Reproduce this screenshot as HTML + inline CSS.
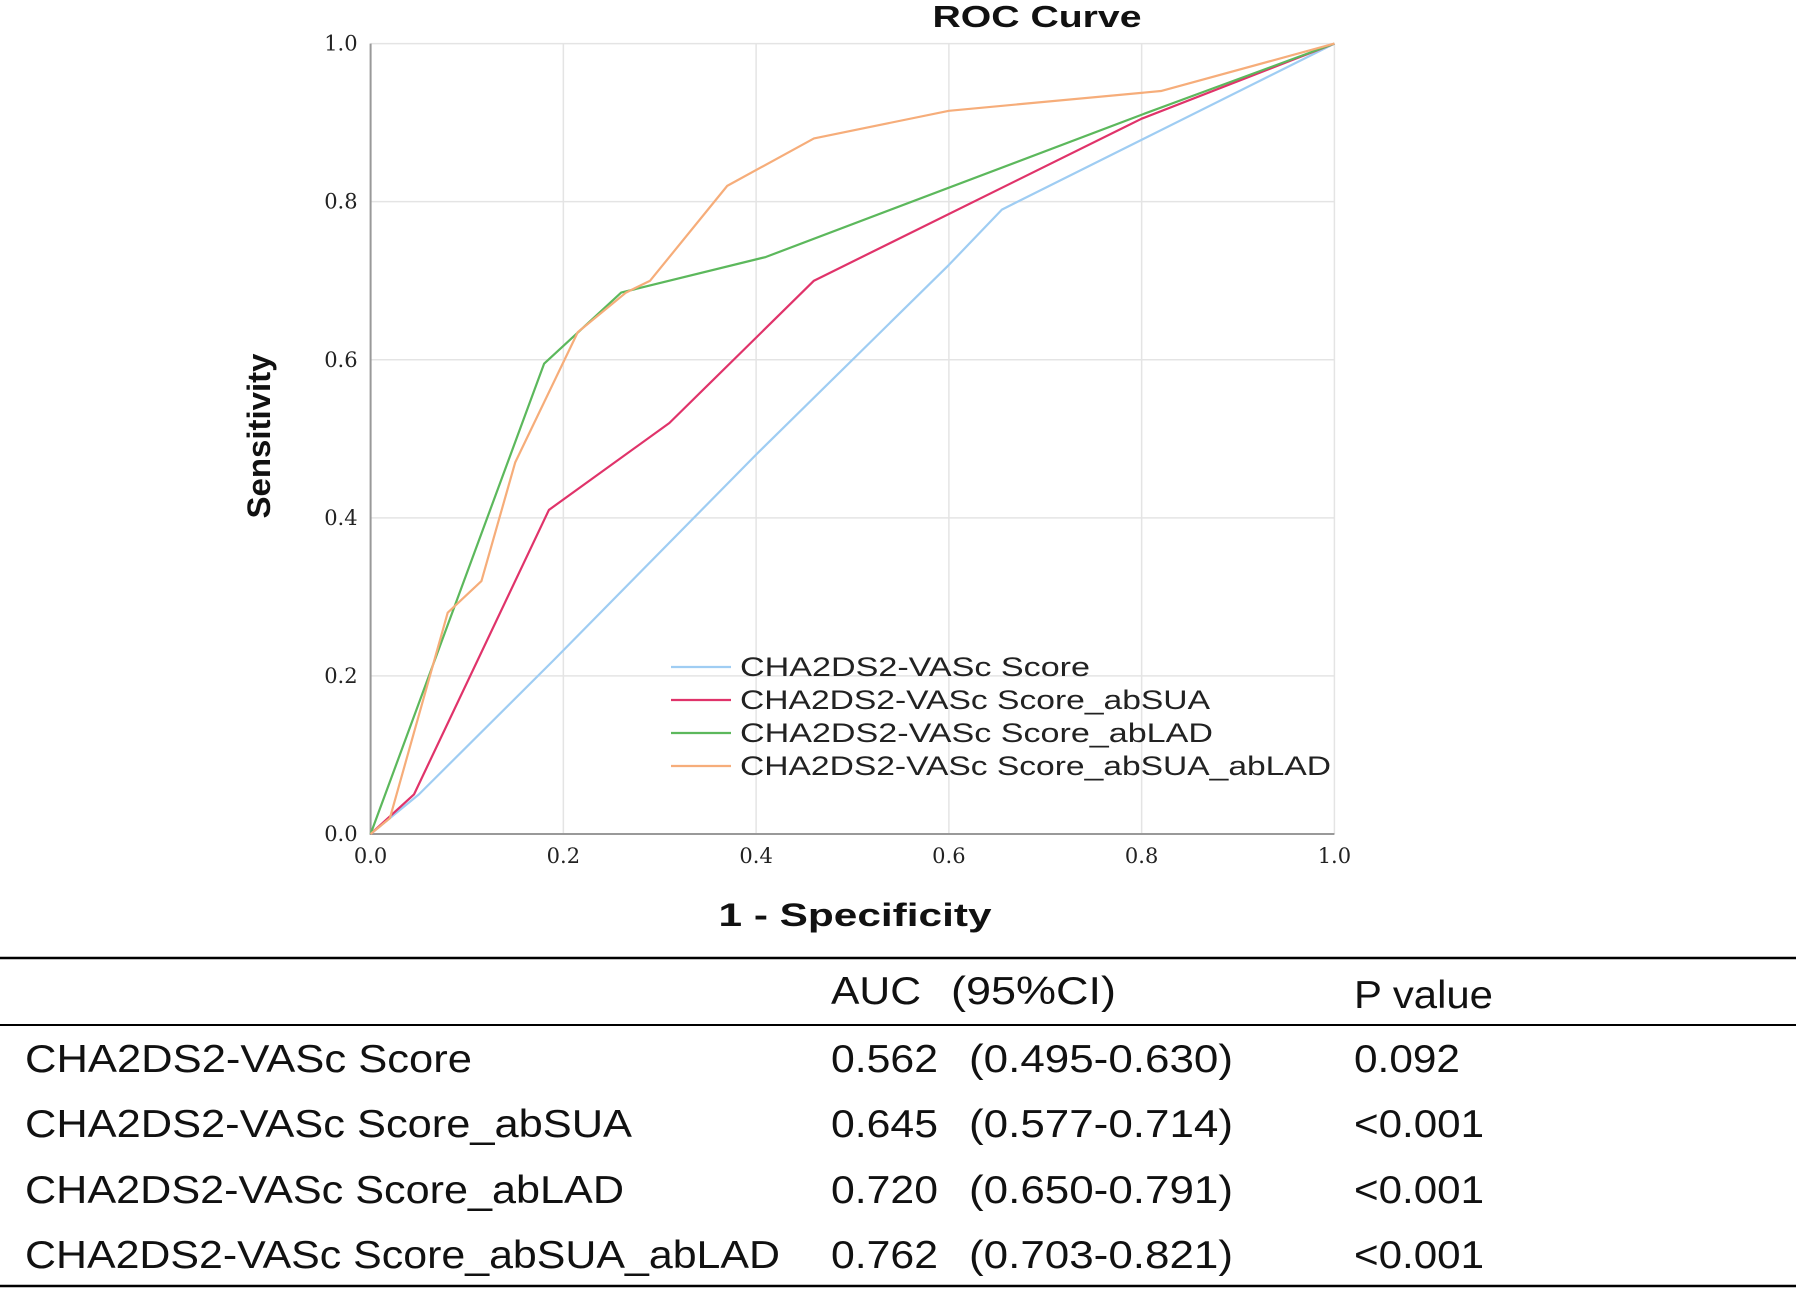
<!DOCTYPE html>
<html><head><meta charset="utf-8"><style>html,body{margin:0;padding:0;background:#fff}svg{display:block}</style></head>
<body>
<svg id="chart" width="1799" height="1290" xmlns="http://www.w3.org/2000/svg" font-family="Liberation Sans, sans-serif">
<g id="grid"></g>
<g id="axes"></g>
<g id="series"></g>
<text x="1037" y="27" text-anchor="middle" font-size="31" font-weight="bold" fill="#111" textLength="209" lengthAdjust="spacingAndGlyphs">ROC Curve</text>
<text transform="translate(270,436) rotate(-90)" text-anchor="middle" font-size="32" font-weight="bold" fill="#111" textLength="165" lengthAdjust="spacingAndGlyphs">Sensitivity</text>
<text x="855" y="926" text-anchor="middle" font-size="32" font-weight="bold" fill="#111" textLength="273" lengthAdjust="spacingAndGlyphs">1 - Specificity</text>
<g id="legend"></g>
<g font-size="39" fill="#111">
<line x1="0" y1="958" x2="1796" y2="958" stroke="#000" stroke-width="2.5"/>
<line x1="0" y1="1025" x2="1796" y2="1025" stroke="#000" stroke-width="2"/>
<line x1="0" y1="1286" x2="1796" y2="1286" stroke="#000" stroke-width="2.5"/>
<text x="831" y="1004" textLength="90" lengthAdjust="spacingAndGlyphs">AUC</text>
<text x="951" y="1004" textLength="165" lengthAdjust="spacingAndGlyphs">(95%CI)</text>
<text x="1354" y="1008" textLength="139" lengthAdjust="spacingAndGlyphs">P value</text>
<g id="rows"></g>
</g>
</svg>
<script>
const xTicks=[0,0.2,0.4,0.6,0.8,1.0];
const yTicks=[0,0.2,0.4,0.6,0.8,1.0];
const seriesNames=["CHA2DS2-VASc Score","CHA2DS2-VASc Score_abSUA","CHA2DS2-VASc Score_abLAD","CHA2DS2-VASc Score_abSUA_abLAD"];
const blueX=[0,0.05,0.19,0.4,0.6,0.655,1];
const blueY=[0,0.05,0.22,0.48,0.72,0.79,1];
const redX=[0,0.045,0.185,0.31,0.46,0.8,1];
const redY=[0,0.05,0.41,0.52,0.70,0.905,1];
const greenX=[0,0.18,0.26,0.41,0.8,1];
const greenY=[0,0.595,0.685,0.73,0.91,1];
const orangeX=[0,0.02,0.08,0.115,0.15,0.215,0.265,0.29,0.37,0.46,0.6,0.82,1];
const orangeY=[0,0.02,0.28,0.32,0.47,0.635,0.685,0.70,0.82,0.88,0.915,0.94,1];
const aucVals=["0.562","0.645","0.720","0.762"];
const ciVals=["(0.495-0.630)","(0.577-0.714)","(0.650-0.791)","(0.703-0.821)"];
const pVals=["0.092","<0.001","<0.001","<0.001"];

const NS="http://www.w3.org/2000/svg";
const X0=370.6,X1=1334.4,Y0=834,Y1=43.6;
const sx=v=>X0+(X1-X0)*v, sy=v=>Y0-(Y0-Y1)*v;
function mk(tag,attrs,parent){const e=document.createElementNS(NS,tag);for(const k in attrs)e.setAttribute(k,attrs[k]);parent.appendChild(e);return e;}
const grid=document.getElementById('grid'),axes=document.getElementById('axes');
xTicks.forEach(t=>{
  const l=mk('line',{x1:sx(t),x2:sx(t),y1:Y0,y2:Y1,stroke:'#e4e4e4','stroke-width':1.5},grid);
  
  
  const tx=mk('text',{x:sx(t),y:Y0+29,'text-anchor':'middle','font-size':21,fill:'#222','font-family':'DejaVu Serif, serif'},axes);
  tx.textContent=t.toFixed(1);
  
  
});
yTicks.forEach(t=>{
  const l=mk('line',{x1:X0,x2:X1,y1:sy(t),y2:sy(t),stroke:'#e4e4e4','stroke-width':1.5},grid);
  
  
  const tx=mk('text',{x:X0-13,y:sy(t)+7,'text-anchor':'end','font-size':21,fill:'#222','font-family':'DejaVu Serif, serif'},axes);
  tx.textContent=t.toFixed(1);
  
  
});
const ax=mk('path',{d:`M${X0} ${Y1}V${Y0}H${X1}`,fill:'none',stroke:'#999','stroke-width':2},axes);


const colors=['#9fcdf3','#e0336a','#5cb85c','#f6ad7a'];
const data=[[blueX,blueY],[redX,redY],[greenX,greenY],[orangeX,orangeY]];
const ser=document.getElementById('series');
[0,1,2,3].forEach(i=>{
  const [xs,ys]=data[i];
  const p=mk('polyline',{points:xs.map((x,j)=>sx(x)+','+sy(ys[j])).join(' '),fill:'none',stroke:colors[i],'stroke-width':2.2,'stroke-linejoin':'round'},ser);
  
  
});
const lg=document.getElementById('legend');
const legW=[350,470,473,591];
seriesNames.forEach((n,i)=>{
  const y=667+i*33;
  const l=mk('line',{x1:671,x2:731,y1:y,y2:y,stroke:colors[i],'stroke-width':2.2},lg);
  
  
  const t=mk('text',{x:740,y:y+9,'font-size':27,fill:'#222',textLength:legW[i],lengthAdjust:'spacingAndGlyphs'},lg);
  t.textContent=n;
  
  
});
const rows=document.getElementById('rows');
const rowY=[1072,1137,1203,1268];
const nameW=[447,607,599,755];
const pW=[106,130,130,130];
seriesNames.forEach((n,i)=>{
  const a=mk('text',{x:25,y:rowY[i],textLength:nameW[i],lengthAdjust:'spacingAndGlyphs'},rows);
  a.textContent=n;
  
  
  const b=mk('text',{x:831,y:rowY[i],textLength:107,lengthAdjust:'spacingAndGlyphs'},rows);b.textContent=aucVals[i];
  
  
  const c=mk('text',{x:969,y:rowY[i],textLength:264,lengthAdjust:'spacingAndGlyphs'},rows);c.textContent=ciVals[i];
  
  
  const d=mk('text',{x:1354,y:rowY[i],textLength:pW[i],lengthAdjust:'spacingAndGlyphs'},rows);d.textContent=pVals[i];
  
  
});
</script>
</body></html>
